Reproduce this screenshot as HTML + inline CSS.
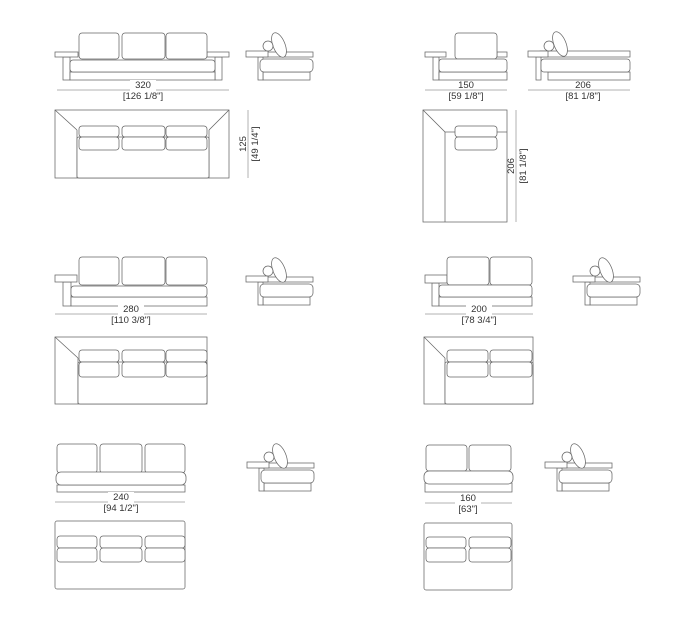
<!DOCTYPE html>
<html><head><meta charset="utf-8"><style>
html,body{margin:0;padding:0;background:#fff;}
svg{display:block;}
text{font-family:"Liberation Sans",sans-serif;font-size:9.5px;fill:#333;}
</style></head><body>
<svg width="684" height="623" viewBox="0 0 684 623" xmlns="http://www.w3.org/2000/svg">
<defs>
<g id="side" fill="#fff" stroke="#666" stroke-width="0.75">
  <rect x="259" y="52" width="54" height="5"/>
  <rect x="263" y="72" width="47" height="8"/>
  <rect x="258" y="57" width="5" height="23"/>
  <rect x="260" y="59" width="53" height="13" rx="4"/>
  <rect x="246" y="51" width="22" height="6"/>
  <ellipse cx="279" cy="45" rx="6" ry="13" transform="rotate(-22 279 45)"/>
  <circle cx="268" cy="46" r="5"/>
</g>
</defs>
<g fill="#fff" stroke="#666" stroke-width="0.75">
<!-- ROW 1 LEFT FRONT -->
<rect x="63" y="57" width="7" height="23"/>
<rect x="215" y="57" width="7" height="23"/>
<rect x="70" y="72" width="145" height="8"/>
<rect x="55" y="52" width="23" height="5"/>
<rect x="207" y="52" width="22" height="5"/>
<rect x="79" y="33" width="40" height="26" rx="3"/>
<rect x="122" y="33" width="43" height="26" rx="3"/>
<rect x="166" y="33" width="41" height="26" rx="3"/>
<rect x="70" y="60" width="145" height="12" rx="3"/>
<line x1="57" y1="90" x2="229" y2="90" stroke-width="0.5"/>
<use href="#side"/>
<!-- ROW 1 LEFT PLAN -->
<rect x="55" y="110" width="174" height="68"/>
<line x1="77" y1="130" x2="77" y2="178"/><line x1="209" y1="130" x2="209" y2="178"/>
<line x1="55" y1="110" x2="77" y2="130"/><line x1="229" y1="110" x2="209" y2="130"/>
<rect x="77" y="137" width="132" height="41" rx="2"/>
<rect x="79" y="126" width="40" height="11" rx="3"/><rect x="79" y="137" width="40" height="13" rx="3"/>
<rect x="122" y="126" width="43" height="11" rx="3"/><rect x="122" y="137" width="43" height="13" rx="3"/>
<rect x="166" y="126" width="41" height="11" rx="3"/><rect x="166" y="137" width="41" height="13" rx="3"/>
<line x1="248" y1="110" x2="248" y2="178" stroke-width="0.5"/>

<!-- ROW 1 RIGHT FRONT -->
<rect x="433" y="57" width="6" height="23"/>
<rect x="439" y="72" width="68" height="8"/>
<rect x="425" y="52" width="21" height="5"/>
<rect x="497" y="52" width="10" height="5"/>
<rect x="455" y="33" width="42" height="26" rx="3"/>
<rect x="439" y="59" width="68" height="13" rx="3"/>
<line x1="425" y1="90" x2="507" y2="90" stroke-width="0.5"/>
<!-- chaise side -->
<rect x="540" y="51" width="90" height="6"/>
<rect x="548" y="72" width="82" height="8"/>
<rect x="536" y="57" width="5" height="23"/>
<rect x="541" y="59" width="89" height="13" rx="3"/>
<rect x="528" y="51" width="20" height="6"/>
<ellipse cx="560" cy="44" rx="6" ry="13" transform="rotate(-22 560 44)"/>
<circle cx="549" cy="46" r="5"/>
<line x1="528" y1="90" x2="630" y2="90" stroke-width="0.5"/>
<!-- chaise plan -->
<rect x="423" y="110" width="84" height="112"/>
<line x1="445" y1="132" x2="445" y2="222"/><line x1="423" y1="110" x2="445" y2="132"/>
<line x1="445" y1="132" x2="507" y2="132"/>
<rect x="455" y="126" width="42" height="11" rx="3"/><rect x="455" y="137" width="42" height="13" rx="3"/>
<line x1="516" y1="110" x2="516" y2="222" stroke-width="0.5"/>

<!-- ROW 2 LEFT FRONT -->
<rect x="63" y="282" width="8" height="24"/>
<rect x="71" y="297" width="136" height="9"/>
<rect x="55" y="275" width="22" height="7"/>
<rect x="79" y="257" width="40" height="28" rx="3"/>
<rect x="122" y="257" width="43" height="28" rx="3"/>
<rect x="166" y="257" width="41" height="28" rx="3"/>
<rect x="71" y="286" width="136" height="11" rx="3"/>
<line x1="55" y1="314" x2="207" y2="314" stroke-width="0.5"/>
<use href="#side" transform="translate(0,225)"/>
<!-- ROW 2 LEFT PLAN -->
<rect x="55" y="337" width="152" height="67"/>
<line x1="78" y1="358" x2="78" y2="404"/><line x1="55" y1="337" x2="78" y2="358"/>
<rect x="78" y="362" width="129" height="42" rx="2"/>
<rect x="79" y="350" width="40" height="12" rx="3"/><rect x="79" y="362" width="40" height="15" rx="3"/>
<rect x="122" y="350" width="43" height="12" rx="3"/><rect x="122" y="362" width="43" height="15" rx="3"/>
<rect x="166" y="350" width="41" height="12" rx="3"/><rect x="166" y="362" width="41" height="15" rx="3"/>

<!-- ROW 2 RIGHT FRONT -->
<rect x="432" y="283" width="7" height="23"/>
<rect x="439" y="297" width="93" height="9"/>
<rect x="425" y="275" width="22" height="8"/>
<rect x="447" y="257" width="42" height="28" rx="3"/>
<rect x="490" y="257" width="42" height="28" rx="3"/>
<rect x="439" y="285" width="93" height="12" rx="3"/>
<line x1="425" y1="314" x2="533" y2="314" stroke-width="0.5"/>
<use href="#side" transform="translate(327,225)"/>
<!-- ROW 2 RIGHT PLAN -->
<rect x="424" y="337" width="109" height="67"/>
<line x1="445" y1="358" x2="445" y2="404"/><line x1="424" y1="337" x2="445" y2="358"/>
<rect x="445" y="362" width="88" height="42" rx="2"/>
<rect x="447" y="350" width="41" height="12" rx="3"/><rect x="447" y="362" width="41" height="15" rx="3"/>
<rect x="490" y="350" width="42" height="12" rx="3"/><rect x="490" y="362" width="42" height="15" rx="3"/>

<!-- ROW 3 LEFT FRONT -->
<rect x="57" y="485" width="128" height="7"/>
<rect x="57" y="444" width="40" height="29" rx="3"/>
<rect x="100" y="444" width="42" height="29" rx="3"/>
<rect x="145" y="444" width="40" height="29" rx="3"/>
<rect x="56" y="472" width="130" height="13" rx="5"/>
<line x1="55" y1="502" x2="185" y2="502" stroke-width="0.5"/>
<use href="#side" transform="translate(1,411)"/>
<!-- ROW 3 LEFT PLAN -->
<rect x="55" y="521" width="130" height="68" rx="2"/>
<rect x="57" y="536" width="40" height="12" rx="3"/><rect x="57" y="548" width="40" height="14" rx="3"/>
<rect x="100" y="536" width="42" height="12" rx="3"/><rect x="100" y="548" width="42" height="14" rx="3"/>
<rect x="145" y="536" width="40" height="12" rx="3"/><rect x="145" y="548" width="40" height="14" rx="3"/>

<!-- ROW 3 RIGHT FRONT -->
<rect x="425" y="483" width="87" height="9"/>
<rect x="426" y="445" width="41" height="26" rx="3"/>
<rect x="469" y="445" width="42" height="26" rx="3"/>
<rect x="424" y="471" width="89" height="13" rx="5"/>
<line x1="425" y1="503" x2="512" y2="503" stroke-width="0.5"/>
<use href="#side" transform="translate(299,411)"/>
<!-- ROW 3 RIGHT PLAN -->
<rect x="424" y="523" width="88" height="67" rx="2"/>
<rect x="426" y="537" width="40" height="11" rx="3"/><rect x="426" y="548" width="40" height="14" rx="3"/>
<rect x="469" y="537" width="42" height="11" rx="3"/><rect x="469" y="548" width="42" height="14" rx="3"/>
</g>

<g text-anchor="middle">
<rect x="130" y="80" width="26" height="11" fill="#fff"/>
<text x="143" y="88">320</text><text x="143" y="99">[126 1/8"]</text>
<text x="466" y="88">150</text><text x="466" y="99">[59 1/8"]</text>
<text x="583" y="88">206</text><text x="583" y="99">[81 1/8"]</text>
<text transform="translate(246,144) rotate(-90)">125</text>
<text transform="translate(258,144) rotate(-90)">[49 1/4"]</text>
<text transform="translate(514,166) rotate(-90)">206</text>
<text transform="translate(526,166) rotate(-90)">[81 1/8"]</text>
<rect x="118" y="304" width="26" height="11" fill="#fff"/>
<text x="131" y="312">280</text><text x="131" y="323">[110 3/8"]</text>
<rect x="466" y="304" width="26" height="11" fill="#fff"/>
<text x="479" y="312">200</text><text x="479" y="323">[78 3/4"]</text>
<rect x="108" y="492" width="26" height="11" fill="#fff"/>
<text x="121" y="500">240</text><text x="121" y="511">[94 1/2"]</text>
<rect x="455" y="493" width="26" height="11" fill="#fff"/>
<text x="468" y="501">160</text><text x="468" y="512">[63"]</text>
</g>
</svg>
</body></html>
